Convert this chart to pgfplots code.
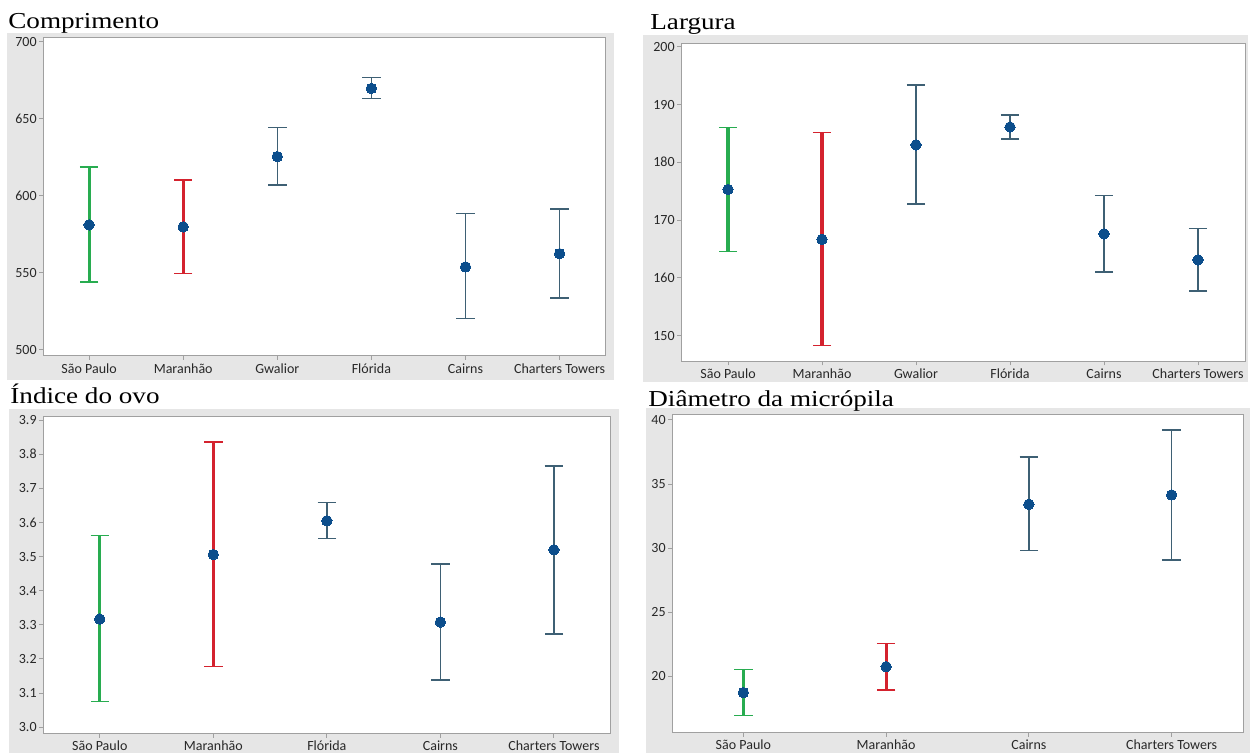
\documentclass[border=0pt]{standalone}
\usepackage{fontspec}
\setmainfont{Liberation Serif}
\newfontfamily\tickfontfam{Carlito}
\newfontfamily\titlefontfam{Liberation Serif}[FakeStretch=1.19]
\usepackage{pgfplots}
\usepackage{pgfplotstable}
\pgfplotsset{compat=1.18}

\definecolor{panelgray}{RGB}{230,230,230}
\definecolor{axisgray}{RGB}{160,160,160}
\definecolor{tickcol}{RGB}{40,40,40}
\definecolor{markblue}{RGB}{12,78,140}
\definecolor{barblue}{RGB}{62,96,116}
\definecolor{sgreen}{RGB}{40,172,80}
\definecolor{sred}{RGB}{212,34,46}

% x  mean  low  high
\pgfplotstableread{
x y lo hi
0 581.2 544.0 618.6
1 579.9 549.8 610.2
2 625.5 607.0 644.4
3 669.7 663.0 676.8
4 553.9 520.3 588.5
5 562.5 533.8 591.4
}\comprimento
\pgfplotstableread{
x y lo hi
0 175.3 164.5 186.0
1 166.65 148.3 185.2
2 183.0 172.8 193.35
3 186.1 184.0 188.2
4 167.6 161.0 174.2
5 163.1 157.7 168.55
}\largura
\pgfplotstableread{
x y lo hi
0 3.317 3.075 3.562
1 3.506 3.178 3.836
2 3.605 3.553 3.659
3 3.308 3.138 3.478
4 3.520 3.273 3.766
}\indice
\pgfplotstableread{
x y lo hi
0 18.73 16.93 20.55
1 20.75 18.93 22.57
2 33.42 29.80 37.11
3 34.15 29.08 39.22
}\diametro

\pgfplotsset{
  panel/.style={
    scale only axis,
    anchor=south west,
    axis background/.style={fill=white},
    axis line style={color=axisgray, line width=0.5pt},
    tick style={color=axisgray, line width=0.5pt},
    tick align=outside,
    major tick length=2pt,
    xtick pos=bottom, ytick pos=left,
    ticklabel style={font=\tickfontfam\fontsize{7}{8}\selectfont, text=tickcol},
    yticklabel style={inner sep=1pt},
    xticklabel style={inner sep=1.5pt},
    /pgf/number format/assume math mode=true,
    clip=false,
  },
}

\newcommand{\eplot}[5]{% table, domain start, end, color, width
  \addplot[only marks, mark=*, mark size=2.6pt,
    mark options={fill=markblue, draw=markblue, line width=0pt},
    restrict x to domain=#2:#3,
    error bars/.cd, y dir=both, y explicit,
    error bar style={color=#4, line width=#5},
    error mark options={rotate=90, mark size=4.6pt, line width=0.7pt, color=#4}]
    table[x=x, y=y, y error plus expr=\thisrow{hi}-\thisrow{y}, y error minus expr=\thisrow{y}-\thisrow{lo}] {#1};
}

\begin{document}
\begin{tikzpicture}
\path (0pt,0pt) rectangle (628.5pt,-376.5pt);
% panel backgrounds
\fill[panelgray] (3.5pt,-16.5pt) rectangle (307pt,-190pt);
\fill[panelgray] (321.5pt,-17.5pt) rectangle (624pt,-191pt);
\fill[panelgray] (4.5pt,-204.5pt) rectangle (309.5pt,-376.5pt);
\fill[panelgray] (323pt,-204pt) rectangle (625pt,-376.5pt);

% titles
\node[anchor=base west, inner sep=0pt] at (4pt,-14.3pt) {\titlefontfam\fontsize{11.4}{12}\selectfont Comprimento};
\node[anchor=base west, inner sep=0pt] at (325pt,-14.6pt) {\titlefontfam\fontsize{11.4}{12}\selectfont Largura};
\node[anchor=base west, inner sep=0pt] at (5pt,-201.7pt) {\titlefontfam\fontsize{11.4}{12}\selectfont Índice do ovo};
\node[anchor=base west, inner sep=0pt] at (324pt,-203.3pt) {\titlefontfam\fontsize{11.4}{12}\selectfont Diâmetro da micrópila};

% Comprimento
\begin{axis}[panel, at={(21.5pt,-178pt)}, width=281.35pt, height=159pt,
  xmin=-0.49, xmax=5.49, ymin=496.1, ymax=702.4,
  ytick={500,550,600,650,700},
  xtick={0,1,2,3,4,5},
  xticklabels={São Paulo,Maranhão,Gwalior,Flórida,Cairns,Charters Towers}]
  \eplot{\comprimento}{-0.1}{0.1}{sgreen}{1.6pt}
  \eplot{\comprimento}{0.9}{1.1}{sred}{1.6pt}
  \eplot{\comprimento}{1.9}{5.1}{barblue}{0.75pt}
\end{axis}

% Largura
\begin{axis}[panel, at={(340.5pt,-180.75pt)}, width=282pt, height=159.1pt,
  xmin=-0.5, xmax=5.5, ymin=145.5, ymax=200.6,
  ytick={150,160,170,180,190,200},
  xtick={0,1,2,3,4,5},
  xticklabels={São Paulo,Maranhão,Gwalior,Flórida,Cairns,Charters Towers}]
  \eplot{\largura}{-0.1}{0.1}{sgreen}{1.6pt}
  \eplot{\largura}{0.9}{1.1}{sred}{1.6pt}
  \eplot{\largura}{1.9}{5.1}{barblue}{0.75pt}
\end{axis}

% Indice do ovo
\begin{axis}[panel, at={(21.5pt,-366.75pt)}, width=283.85pt, height=158.4pt,
  xmin=-0.5, xmax=4.5, ymin=2.9815, ymax=3.91,
  ytick={3.0,3.1,3.2,3.3,3.4,3.5,3.6,3.7,3.8,3.9},
  yticklabel style={/pgf/number format/.cd, fixed, fixed zerofill, precision=1},
  xtick={0,1,2,3,4},
  xticklabels={São Paulo,Maranhão,Flórida,Cairns,Charters Towers}]
  \eplot{\indice}{-0.1}{0.1}{sgreen}{1.6pt}
  \eplot{\indice}{0.9}{1.1}{sred}{1.6pt}
  \eplot{\indice}{1.9}{4.1}{barblue}{0.75pt}
\end{axis}

% Diametro da micropila
\begin{axis}[panel, at={(336pt,-366.35pt)}, width=285.5pt, height=159.2pt,
  xmin=-0.5, xmax=3.5, ymin=15.6, ymax=40.44,
  ytick={20,25,30,35,40},
  xtick={0,1,2,3},
  xticklabels={São Paulo,Maranhão,Cairns,Charters Towers}]
  \eplot{\diametro}{-0.1}{0.1}{sgreen}{1.6pt}
  \eplot{\diametro}{0.9}{1.1}{sred}{1.6pt}
  \eplot{\diametro}{1.9}{3.1}{barblue}{0.75pt}
\end{axis}
\end{tikzpicture}
\end{document}
